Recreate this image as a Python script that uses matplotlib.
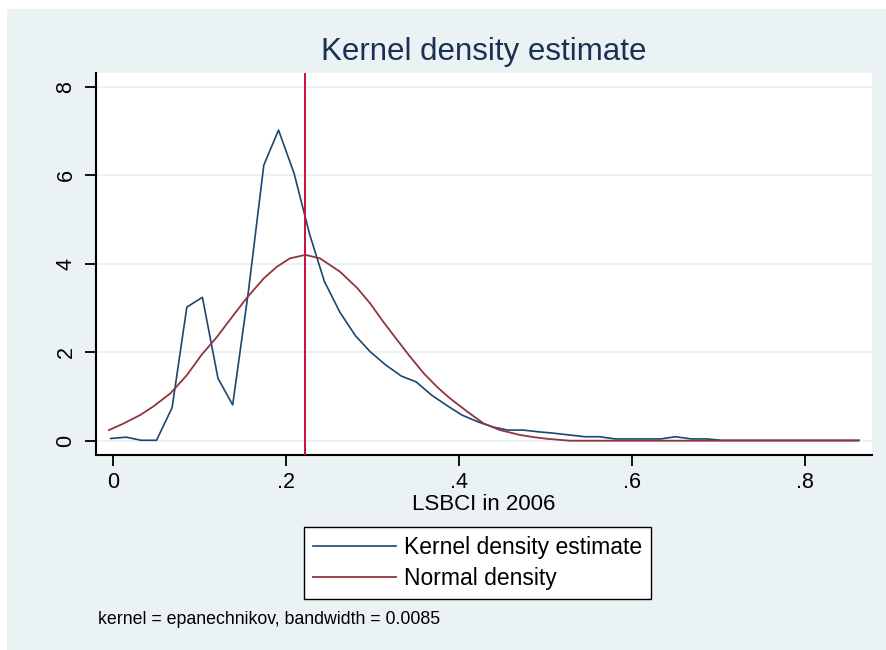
import matplotlib
matplotlib.use('Agg')
import matplotlib.pyplot as plt
from matplotlib.patches import Rectangle

plt.rcParams['font.family'] = ['Liberation Sans', 'DejaVu Sans']

# kernel density estimate (50 evaluation points)
kde_x = [-0.003, 0.015, 0.032, 0.050, 0.068, 0.085, 0.103, 0.121, 0.138, 0.156,
         0.174, 0.191, 0.209, 0.227, 0.244, 0.262, 0.280, 0.297, 0.315, 0.333,
         0.350, 0.368, 0.386, 0.403, 0.421, 0.439, 0.456, 0.474, 0.492, 0.509,
         0.527, 0.545, 0.562, 0.580, 0.597, 0.615, 0.633, 0.650, 0.668, 0.686,
         0.703, 0.721, 0.739, 0.756, 0.774, 0.792, 0.809, 0.827, 0.845, 0.862]
kde_y = [0.05, 0.08, 0.01, 0.01, 0.75, 3.02, 3.24, 1.41, 0.81, 3.35,
         6.23, 7.02, 6.04, 4.66, 3.60, 2.90, 2.37, 2.01, 1.71, 1.46,
         1.33, 1.03, 0.79, 0.58, 0.43, 0.31, 0.24, 0.24, 0.20, 0.17,
         0.13, 0.09, 0.09, 0.04, 0.04, 0.04, 0.04, 0.09, 0.04, 0.04,
         0.01, 0.01, 0.01, 0.01, 0.01, 0.01, 0.01, 0.01, 0.01, 0.01]

# normal density
norm_x = [-0.005, 0.012, 0.031, 0.046, 0.066, 0.085, 0.102, 0.120, 0.139, 0.154,
          0.174, 0.189, 0.204, 0.222, 0.239, 0.262, 0.282, 0.297, 0.312, 0.328,
          0.343, 0.359, 0.374, 0.389, 0.409, 0.428, 0.447, 0.470, 0.486, 0.503,
          0.528, 0.861]
norm_y = [0.24, 0.39, 0.58, 0.77, 1.07, 1.48, 1.94, 2.35, 2.84, 3.22,
          3.67, 3.93, 4.12, 4.20, 4.12, 3.82, 3.45, 3.10, 2.69, 2.28,
          1.90, 1.52, 1.22, 0.96, 0.66, 0.39, 0.24, 0.13, 0.08, 0.04,
          0.0, 0.0]

mean_line = 0.222

xticks = [0, 0.2, 0.4, 0.6, 0.8]
xtick_labels = ['0', '.2', '.4', '.6', '.8']
yticks = [0, 2, 4, 6, 8]
ytick_labels = ['0', '2', '4', '6', '8']

bg = '#eaf2f3'
navy = '#1a476f'
maroon = '#90353b'

W, H = 887, 650
fig = plt.figure(figsize=(W / 100, H / 100), dpi=100)
fig.patch.set_facecolor('white')
fig.patches.append(Rectangle((7 / W, 0), 1 - 7 / W, 1 - 9 / H, transform=fig.transFigure,
                             facecolor=bg, edgecolor='none', zorder=-10))

ax = fig.add_axes([96 / W, (H - 455) / H, (872 - 96) / W, (455 - 73) / H])
ax.set_facecolor('white')

ax.plot(kde_x, kde_y, color=navy, lw=1.2, label='Kernel density estimate', zorder=3)
ax.plot(norm_x, norm_y, color=maroon, lw=1.3, label='Normal density', zorder=3)
ax.axvline(mean_line, color='#c8103a', lw=1.4, zorder=4)

ax.set_xlim(-0.020, 0.877)
ax.set_ylim(-0.323, 8.31)

ax.set_xticks(xticks)
ax.set_xticklabels(xtick_labels)
ax.set_yticks(yticks)
ax.set_yticklabels(ytick_labels)
ax.tick_params(axis='both', length=8, width=1.3, labelsize=15.5, color='black')
ax.tick_params(axis='x', pad=4)
ax.tick_params(axis='y', pad=6, labelrotation=90)
plt.setp(ax.get_yticklabels(), va='center')

ax.yaxis.grid(True, color=bg, lw=1.5)
ax.set_axisbelow(True)
for s in ['top', 'right']:
    ax.spines[s].set_visible(False)
for s in ['left', 'bottom']:
    ax.spines[s].set_linewidth(1.5)
    ax.spines[s].set_color('black')

ax.set_xlabel('LSBCI in 2006', fontsize=16)
ax.xaxis.label.set_va('center')
ax.xaxis.set_label_coords(0.5, (455 - 505) / (455 - 73))

fig.text(484 / W, 1 - 52 / H, 'Kernel density estimate', ha='center', va='center',
         fontsize=22.5, color='#1c3055')

leg = fig.legend(loc='upper left', bbox_to_anchor=(304 / W, 1 - 527 / H),
                 fontsize=16.5, frameon=True, fancybox=False, framealpha=1,
                 edgecolor='black', handlelength=3.6, handletextpad=0.35,
                 labelspacing=0.35, borderpad=0.4, borderaxespad=0)
leg.get_frame().set_linewidth(1.0)

fig.text(98 / W, 1 - 619 / H, 'kernel = epanechnikov, bandwidth = 0.0085',
         ha='left', va='center', fontsize=12.8)

fig.savefig('out.png', dpi=100)
